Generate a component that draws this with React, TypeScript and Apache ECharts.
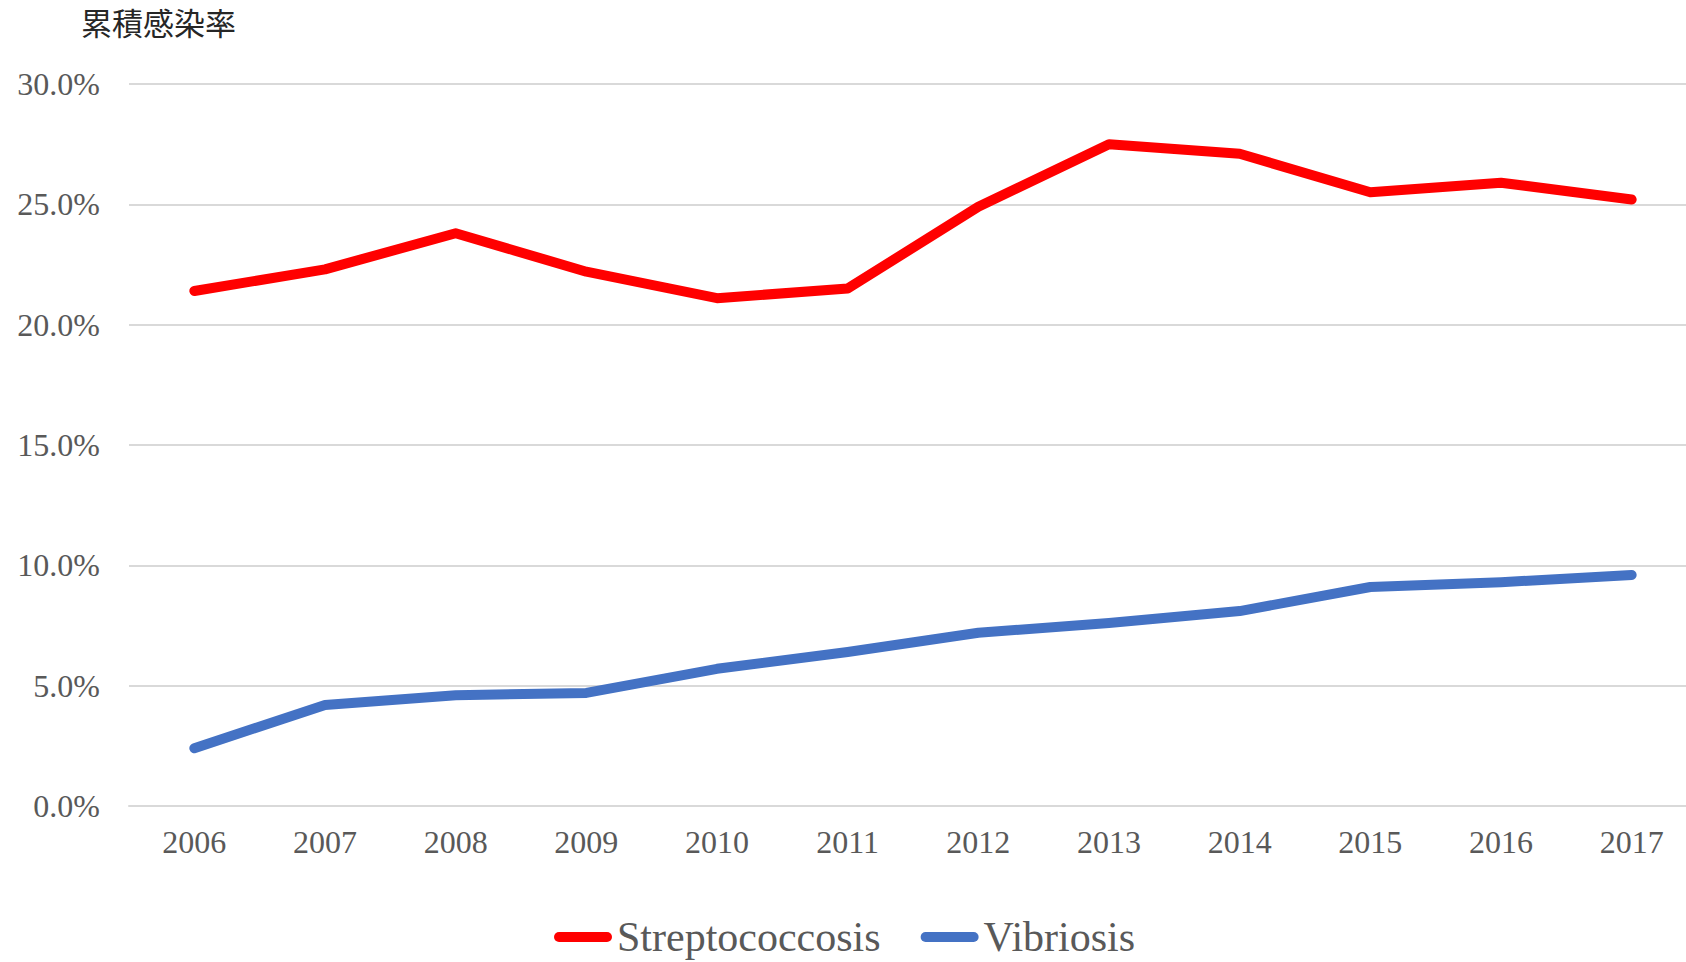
import React, { useEffect, useRef } from "react";
import * as echarts from "echarts";

const years = ["2006", "2007", "2008", "2009", "2010", "2011", "2012", "2013", "2014", "2015", "2016", "2017"];
const streptococcosis = [21.4, 22.3, 23.8, 22.2, 21.1, 21.5, 24.9, 27.5, 27.1, 25.5, 25.9, 25.2];
const vibriosis = [2.4, 4.2, 4.6, 4.7, 5.7, 6.4, 7.2, 7.6, 8.1, 9.1, 9.3, 9.6];
const seriesNames = ["Streptococcosis", "Vibriosis"];
const yAxisTitle = "累積感染率";

const SERIF = "'Times New Roman', 'Liberation Serif', serif";

export default function App() {
  const ref = useRef<HTMLDivElement>(null);
  useEffect(() => {
    if (!ref.current) return;
    const chart = echarts.init(ref.current, null, { renderer: "svg" });
    chart.setOption({
      animation: false,
      backgroundColor: "#ffffff",
      grid: { left: 129, right: 3, top: 84, bottom: 156, containLabel: false },
      graphic: [
        {
          type: "text",
          x: 81,
          y: 21,
          style: {
            text: yAxisTitle,
            fontSize: 31,
            fontFamily: "'Noto Sans CJK JP', sans-serif",
            fill: "#262626",
            verticalAlign: "middle",
            align: "left",
          },
        },
      ],
      legend: {
        left: 554,
        top: 916,
        padding: 0,
        itemWidth: 58,
        itemHeight: 10,
        itemGap: 40,
        icon: "path://M5,0 H53 A5,5 0 0 1 53,10 H5 A5,5 0 0 1 5,0 Z",
        textStyle: { fontSize: 42, lineHeight: 42, fontFamily: SERIF, color: "#595959" },
        data: seriesNames,
      },
      xAxis: {
        type: "category",
        data: years,
        boundaryGap: true,
        axisLine: { show: true, lineStyle: { color: "#d9d9d9", width: 2 } },
        axisTick: { show: false },
        axisLabel: { fontSize: 32, fontFamily: SERIF, color: "#595959", margin: 20 },
      },
      yAxis: {
        type: "value",
        min: 0,
        max: 30,
        interval: 5,
        axisLine: { show: false },
        axisTick: { show: false },
        splitLine: { show: true, lineStyle: { color: "#d9d9d9", width: 2 } },
        axisLabel: {
          fontSize: 32,
          fontFamily: SERIF,
          color: "#595959",
          margin: 29,
          formatter: (v: number) => v.toFixed(1) + "%",
        },
      },
      series: [
        {
          name: seriesNames[0],
          type: "line",
          data: streptococcosis,
          symbol: "none",
          color: "#FF0000",
          lineStyle: { color: "#FF0000", width: 10, cap: "round", join: "round" },
        },
        {
          name: seriesNames[1],
          type: "line",
          data: vibriosis,
          symbol: "none",
          color: "#4472C4",
          lineStyle: { color: "#4472C4", width: 10, cap: "round", join: "round" },
        },
      ],
    });
    return () => chart.dispose();
  }, []);
  return (
    <div
      style={{
        position: "absolute",
        left: 0,
        top: 0,
        width: 1686,
        height: 962,
        overflow: "hidden",
        background: "#fff",
      }}
    >
      <div ref={ref} style={{ width: 1700, height: 962 }} />
    </div>
  );
}
